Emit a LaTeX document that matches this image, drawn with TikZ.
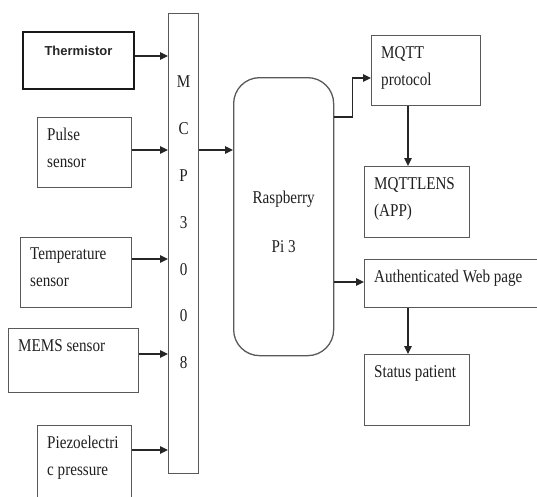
\documentclass[tikz,border=0pt]{standalone}
\usepackage{fontspec}
\setmainfont{Liberation Serif}[FakeStretch=0.84]
\setsansfont{Liberation Sans}
\usepackage{tikz}
\usetikzlibrary{arrows.meta,positioning}
\tikzset{
    %Define standard arrow tip
    >={Triangle[length=8pt,width=7.5pt]},
    %Define style for boxes
    blok/.style={
           rectangle,
           draw=black!65, line width=1.3pt,
           inner sep=0pt,
           anchor=north west},
    rblok/.style={
           blok,
           rounded corners=26pt},
    %Define style for the text in a box
    tekst/.style={
           anchor=north west,
           inner xsep=10pt, inner ysep=11pt,
           align=left, text=black!88,
           font=\fontsize{18}{27}\selectfont},
    % Define arrow style
    pil/.style={
           ->,
           line width=1.2pt,
           draw=black!85}
}

\begin{document}
\begin{tikzpicture}[x=1pt,y=-1pt]
\path[use as bounding box] (0,0) rectangle (537,496);
\clip (0,0) rectangle (537,496);
 %sensors
\node[blok, line width=2pt, draw=black!90, minimum width=111, minimum height=57,
  label={[anchor=north, yshift=-11.5pt, text=black!85,
          font=\sffamily\bfseries\fontsize{13}{15}\selectfont]north:Thermistor}] (therm) at (22,31) {};
\node[blok, minimum width=94, minimum height=70, label={[tekst]north west:Pulse\\sensor}] (pulse) at (37,117) {};
\node[blok, minimum width=111, minimum height=70, label={[tekst]north west:Temperature\\sensor}] (temp) at (20,237) {};
\node[blok, minimum width=130, minimum height=64, label={[tekst]north west:MEMS sensor}] (mems) at (8,328) {};
\node[blok, minimum width=94, minimum height=90, label={[tekst]north west:Piezoelectri\\c pressure}] (piezo) at (37,425) {};
 %converter and controller
\node[blok, minimum width=30, minimum height=460,
  label={[anchor=north, yshift=-63pt, inner sep=0pt, align=center, text=black!88,
          font=\fontsize{18}{46.8}\selectfont]north:M\\C\\P\\3\\0\\0\\8}] (mcp) at (168,13) {};
\node[rblok, minimum width=100, minimum height=278,
  label={[anchor=north, yshift=-113.7pt, inner sep=0pt, align=center, text=black!88,
          font=\fontsize{18}{49}\selectfont]north:Raspberry\\Pi 3}] (rpi) at (233,77) {};
 %outputs
\node[blok, minimum width=109, minimum height=70, label={[tekst]north west:MQTT\\protocol}] (mqtt) at (371,35) {};
\node[blok, minimum width=105, minimum height=71, label={[tekst]north west:MQTTLENS\\(APP)}] (lens) at (364,166) {};
\node[blok, minimum width=200, minimum height=48, label={[tekst]north west:Authenticated Web page}] (auth) at (364,259) {};
\node[blok, minimum width=105, minimum height=71, label={[tekst]north west:Status patient}] (status) at (364,354) {};

 %connectors
\draw[pil] ([yshift=-25pt]therm.north east) coordinate (t1) -- (t1 -| mcp.west);
\draw[pil] ([yshift=-33pt]pulse.north east) coordinate (t2) -- (t2 -| mcp.west);
\draw[pil] ([yshift=-22pt]temp.north east) coordinate (t3) -- (t3 -| mcp.west);
\draw[pil] ([yshift=-26pt]mems.north east) coordinate (t4) -- (t4 -| mcp.west);
\draw[pil] ([yshift=-25pt]piezo.north east) coordinate (t5) -- (t5 -| mcp.west);
\draw[pil] ([yshift=-137pt]mcp.north east) coordinate (m1) -- (m1 -| rpi.west);
\draw[pil] ([yshift=-40pt]rpi.north east) -- ++(18,0) |- ([yshift=-43pt]mqtt.north west);
\path ([xshift=44pt]lens.north west) coordinate (l1);
\draw[pil] (l1 |- mqtt.south) -- (l1);
\path ([yshift=-23pt]auth.north west) coordinate (a1);
\draw[pil] (a1 -| rpi.east) -- (a1);
\path ([xshift=44pt]status.north west) coordinate (s1);
\draw[pil] (s1 |- auth.south) -- (s1);

\end{tikzpicture}
\end{document}
